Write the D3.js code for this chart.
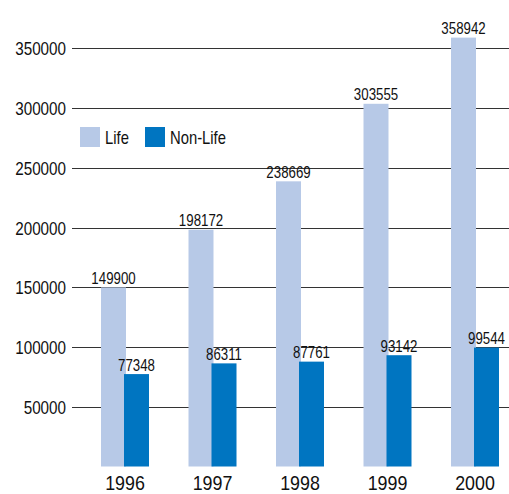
<!DOCTYPE html>
<html><head><meta charset="utf-8">
<script src="https://cdn.jsdelivr.net/npm/d3@7"></script>
<style>
html,body{margin:0;padding:0;background:#fff;}
svg{display:block;font-family:"Liberation Sans",Arial,sans-serif;}
</style></head>
<body>
<script>
const years = ["1996","1997","1998","1999","2000"];
const series = ["Life","Non-Life"];
const life = [149900,198172,238669,303555,358942];
const nonLife = [77348,86311,87761,93142,99544];
const yTicks = [50000,100000,150000,200000,250000,300000,350000];
const colors = ["#b7c9e7","#0075c1"];

const W = 509, H = 494;
const svg = d3.select("body").append("svg").attr("width", W).attr("height", H);

function label(g, tx, ty, txt, size, sx, anchor) {
  return g.append("text")
    .attr("transform", `translate(${tx},${ty}) scale(${sx},1)`)
    .attr("text-anchor", anchor || "start")
    .attr("font-size", size).attr("fill", "#111").text(txt);
}

const y = d3.scaleLinear().domain([0, 350000]).range([466.5, 48.3]);
const x = d3.scaleBand().domain(years).range([81.25, 518.75]).paddingInner(0.4514).paddingOuter(0.2257);
const xs = d3.scalePoint().domain(series).range([0, 23]);
const barW = 25;

// gridlines + y labels
const grid = svg.append("g");
yTicks.forEach(t => {
  const yy = Math.round(y(t)) + 0.5;
  grid.append("line").attr("x1", 72).attr("x2", W).attr("y1", yy).attr("y2", yy)
    .attr("stroke", "#333").attr("stroke-width", 1);
  label(grid, 66, yy + 6.3, t, 17.5, 0.87, "end");
});

const data = [life, nonLife];
series.forEach((s, si) => {
  const g = svg.append("g");
  years.forEach((yr, i) => {
    const v = data[si][i];
    const bx = x(yr) + xs(s);
    g.append("rect").attr("x", bx).attr("width", barW)
      .attr("y", y(v)).attr("height", y(0) - y(v)).attr("fill", colors[si]);
  });
});
const vl = svg.append("g");
series.forEach((s, si) => {
  years.forEach((yr, i) => {
    const v = data[si][i];
    const bx = x(yr) + xs(s);
    label(vl, bx + barW / 2, y(v) - 3.5, v, 16, 0.83, "middle");
  });
});

// x labels
const xl = svg.append("g");
years.forEach(yr => {
  label(xl, x(yr) + x.bandwidth() / 2, 489.5, yr, 20.5, 0.87, "middle");
});

// legend
const legX = [80, 145];
const lg = svg.append("g");
series.forEach((s, si) => {
  lg.append("rect").attr("x", legX[si]).attr("y", 127).attr("width", 20).attr("height", 20).attr("fill", colors[si]);
  label(lg, legX[si] + 25, 143.5, s, 18.5, 0.8, "start");
});
</script>
</body></html>
